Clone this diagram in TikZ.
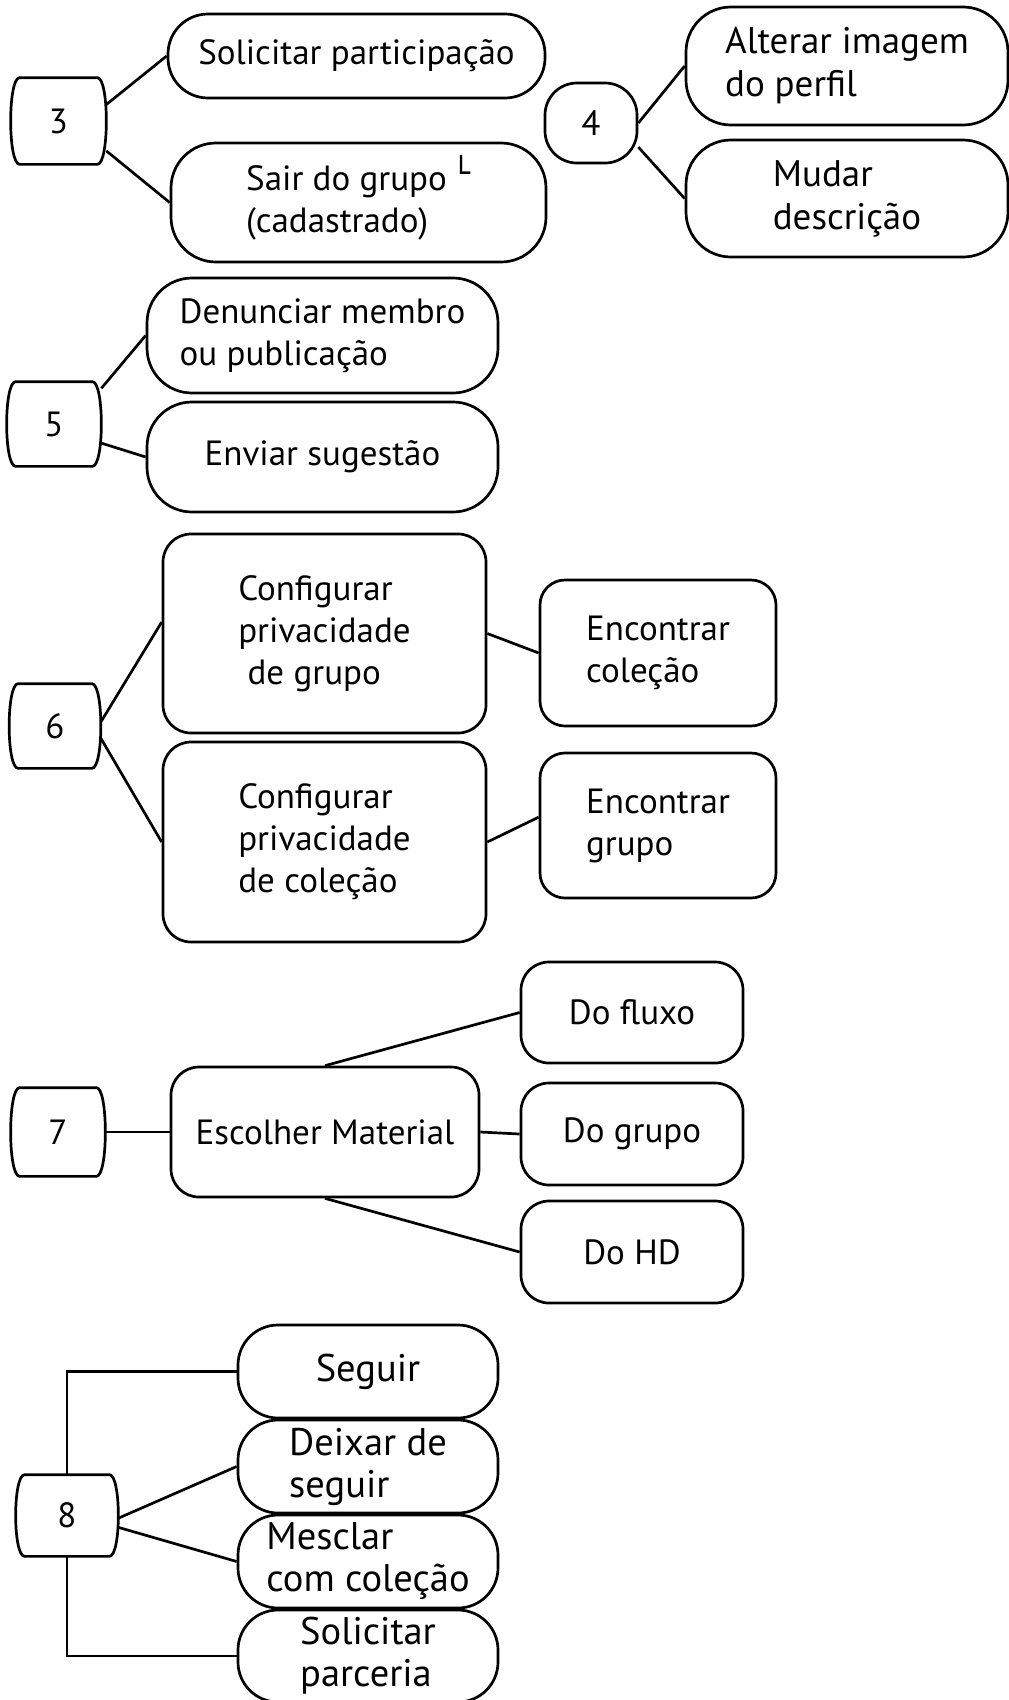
\documentclass[tikz,border=0pt]{standalone}
\usepackage{fontspec}
\setmainfont{PT Sans}
\newfontfamily\cornerfont{DejaVu Sans}
\begin{document}
\begin{tikzpicture}[x=1pt,y=-1pt,line width=2.7pt,
  every node/.style={inner sep=0pt,align=left,font=\fontsize{35}{42}\selectfont},
  numbox/.style={minimum width=92pt,minimum height=82pt,
    append after command={\pgfextra{\draw ([xshift=9pt]\tikzlastnode.north west) -- ([xshift=-9pt]\tikzlastnode.north east)
      .. controls ([xshift=3pt]\tikzlastnode.north east) and ([xshift=3pt]\tikzlastnode.south east) .. ([xshift=-9pt]\tikzlastnode.south east)
      -- ([xshift=9pt]\tikzlastnode.south west)
      .. controls ([xshift=-3pt]\tikzlastnode.south west) and ([xshift=-3pt]\tikzlastnode.north west) .. cycle;}}},
  pill/.style={draw,rounded corners=40pt},
  card/.style={draw,rounded corners=28pt},
  large/.style={font=\fontsize{37}{43}\selectfont},
  larger/.style={font=\fontsize{38.5}{42}\selectfont}]
\useasboundingbox (0,0) rectangle (1009,1700);
\node [numbox,minimum width=93pt,minimum height=84pt] (n3) at (58.5,121) {3};
\node [pill,minimum width=377pt,minimum height=84pt] (solicitar) at (356.5,56) {Solicitar participação};
\node [pill,rounded corners=45pt,minimum width=375pt,minimum height=119pt] (sair) at (358.5,202.5) {Sair do grupo\,\smash{\raisebox{7pt}{\cornerfont\fontsize{30}{30}\selectfont └}}\\(cadastrado)};
\draw [black] (n3.19) -- (solicitar.west);
\draw [black] (n3.-32) -- (sair.west);
\node [draw,rounded corners=32pt,minimum width=92pt,minimum height=80pt] (n4) at (591,123) {4};
\node [pill,large,rounded corners=45pt,minimum width=322pt,minimum height=118pt] (alterar) at (847,66) {Alterar imagem\\do perfil};
\node [pill,large,rounded corners=45pt,minimum width=322pt,minimum height=117pt] (mudar) at (847,198.5) {Mudar\\descrição};
\draw [black] (n4.east) -- (alterar.west);
\draw [black] (n4.-27) -- (mudar.west);
\node [numbox] (n5) at (54,424) {5};
\node [pill,rounded corners=45pt,minimum width=351pt,minimum height=115pt] (denunciar) at (322.5,335.5) {Denunciar membro\\ou publicação};
\node [pill,rounded corners=45pt,minimum width=351pt,minimum height=110pt] (enviar) at (322.5,457) {Enviar sugestão};
\draw [black] (n5.37) -- (denunciar.west);
\draw [black] (n5.-22) -- (enviar.west);
\node [numbox,minimum width=89pt] (n6) at (55,726) {6};
\node [card,minimum width=323pt,minimum height=199pt] (cfggrupo) at (324.5,633.5) {Configurar\\privacidade\\\ de grupo};
\node [card,minimum width=323pt,minimum height=200pt] (cfgcolecao) at (324.5,842) {Configurar\\privacidade\\de coleção};
\node [card,rounded corners=25pt,minimum width=236pt,minimum height=146pt] (enccolecao) at (658,653) {Encontrar\\coleção};
\node [card,rounded corners=25pt,minimum width=236pt,minimum height=145pt] (encgrupo) at (658,825.5) {Encontrar\\grupo};
\draw [black] (n6.5) -- (cfggrupo.176);
\draw [black] (n6.-15) -- (cfgcolecao.west);
\draw [black] (cfggrupo.east) -- (enccolecao.west);
\draw [black] (cfgcolecao.east) -- (encgrupo.176);
\node [numbox,minimum height=86pt] (n7) at (58,1132) {7};
\node [card,minimum width=308pt,minimum height=130pt] (escolher) at (325,1132) {Escolher Material};
\node [card,minimum width=222pt,minimum height=101pt] (fluxo) at (632,1012.5) {Do fluxo};
\node [card,minimum width=222pt,minimum height=102pt] (dogrupo) at (632,1134) {Do grupo};
\node [card,minimum width=222pt,minimum height=102pt] (dohd) at (632,1252) {Do HD};
\draw [black] (n7.east) -- (escolher.west);
\draw [black] (escolher.north) -- (fluxo.west);
\draw [black] (escolher.east) -- (dogrupo.west);
\draw [black] (escolher.south) -- (dohd.west);
\node [numbox,minimum width=100pt,minimum height=79pt] (n8) at (67,1515.5) {8};
\node [pill,larger,minimum width=260pt,minimum height=93pt] (seguir) at (368,1371.5) {Seguir};
\node [pill,larger,minimum width=260pt,minimum height=93pt] (deixar) at (368,1466.5) {Deixar de\\seguir};
\node [pill,larger,minimum width=260pt,minimum height=93pt] (mesclar) at (368,1561.5) {Mesclar\\com coleção};
\node [pill,larger,minimum width=260pt,minimum height=92pt] (parceria) at (368,1656) {Solicitar\\parceria};
\draw [black] (n8.north) |- (seguir.west);
\draw [black] (n8.south) |- (parceria.west);
\draw [black] (n8.-3) -- (deixar.west);
\draw [black] (n8.-13) -- (mesclar.west);
\end{tikzpicture}
\end{document}
